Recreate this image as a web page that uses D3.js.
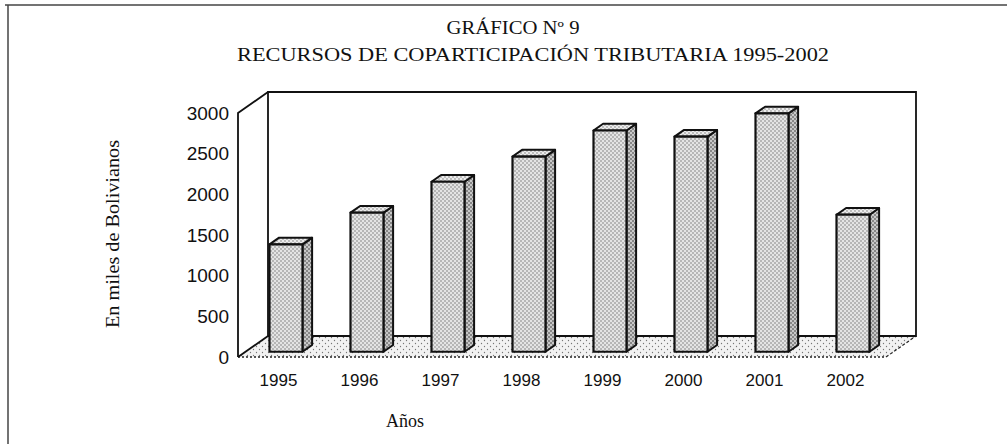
<!DOCTYPE html>
<html>
<head>
<meta charset="utf-8">
<script src="https://cdn.jsdelivr.net/npm/d3@7"></script>
<style>
  body { margin: 0; background: #fff; }
  svg { display: block; }
</style>
</head>
<body>
<div id="chart"></div>
<script>
// data (miles de Bolivianos)
var years = ["1995", "1996", "1997", "1998", "1999", "2000", "2001", "2002"];
var values = [1320, 1710, 2090, 2400, 2720, 2645, 2930, 1685];
var yTicks = [0, 500, 1000, 1500, 2000, 2500, 3000];
var titleLines = ["GRÁFICO Nº 9", "RECURSOS DE COPARTICIPACIÓN TRIBUTARIA 1995-2002"];
var yLabel = "En miles de Bolivianos";
var xLabel = "Años";

var width = 1007, height = 444;
var depthX = 30, depthY = -21;      // 3d offset of the back wall
var barD0 = 0.25, barD1 = 0.57;     // bar position in depth (fraction)

var svg = d3.select("#chart").append("svg")
    .attr("width", width)
    .attr("height", height);

var defs = svg.append("defs");
function stipple(id, bg, dot, step, r) {
    var p = defs.append("pattern")
        .attr("id", id)
        .attr("patternUnits", "userSpaceOnUse")
        .attr("width", step * 2)
        .attr("height", step * 2);
    p.append("rect").attr("width", step * 2).attr("height", step * 2).attr("fill", bg);
    p.append("circle").attr("cx", step * 0.5).attr("cy", step * 0.5).attr("r", r).attr("fill", dot);
    p.append("circle").attr("cx", step * 1.5).attr("cy", step * 1.5).attr("r", r).attr("fill", dot);
}
stipple("pFront", "#e4e4e4", "#666", 2, 0.7);
stipple("pSide", "#c8c8c8", "#333", 2, 0.8);
stipple("pTop", "#ececec", "#666", 2, 0.65);
stipple("pFloor", "#f2f2f2", "#777", 3, 0.65);

// page frame (scan edges)
svg.append("line").attr("x1", 5).attr("y1", 5).attr("x2", width).attr("y2", 5)
    .attr("stroke", "#444").attr("stroke-width", 1.5);
svg.append("line").attr("x1", 8).attr("y1", 5).attr("x2", 8).attr("y2", height)
    .attr("stroke", "#444").attr("stroke-width", 1.5);

var x = d3.scaleBand().domain(years).range([238, 886]).paddingInner(0).paddingOuter(0);
var y = d3.scaleLinear().domain([0, 3000]).range([357, 113]);

function P(px, py, d) { return [px + depthX * d, py + depthY * d]; }
function poly(pts) { return pts.map(function (p) { return p.join(","); }).join(" "); }

var x0 = x.range()[0], x1 = x.range()[1];
var yb = y(0), yt = y(3000);

// floor
svg.append("polygon")
    .attr("points", poly([P(x0, yb, 0), P(x1, yb, 0), P(x1, yb, 1), P(x0, yb, 1)]))
    .attr("fill", "url(#pFloor)")
    .attr("stroke", "none");
svg.append("line")
    .attr("x1", x0).attr("y1", yb).attr("x2", x1).attr("y2", yb)
    .attr("stroke", "#222").attr("stroke-width", 1.5).attr("stroke-dasharray", "2,2");
svg.append("line")
    .attr("x1", x1).attr("y1", yb).attr("x2", P(x1, yb, 1)[0]).attr("y2", P(x1, yb, 1)[1])
    .attr("stroke", "#222").attr("stroke-width", 1.2).attr("stroke-dasharray", "3,2");

// walls
var walls = svg.append("g").attr("fill", "none").attr("stroke", "#111").attr("stroke-width", 1.8);
walls.append("polyline")
    .attr("points", poly([P(x0, yb, 1), P(x0, yt, 1), P(x1, yt, 1), P(x1, yb, 1), P(x0, yb, 1)]));
walls.append("polyline")
    .attr("points", poly([P(x0, yb, 0), P(x0, yt, 0), P(x0, yt, 1)]));
walls.append("line")
    .attr("x1", x0).attr("y1", yb).attr("x2", P(x0, yb, 1)[0]).attr("y2", P(x0, yb, 1)[1]);

// bars
var barW = 33;
var bars = svg.append("g").selectAll("g")
    .data(years.map(function (k, i) { return { year: k, value: values[i] }; }))
    .enter().append("g");

function corners(d) {
    var cx = x(d.year) + x.bandwidth() / 2;
    var l = cx - barW / 2, r = cx + barW / 2;
    return {
        fbl: P(l, yb, barD0), fbr: P(r, yb, barD0),
        ftl: P(l, y(d.value), barD0), ftr: P(r, y(d.value), barD0),
        bbr: P(r, yb, barD1), btl: P(l, y(d.value), barD1), btr: P(r, y(d.value), barD1)
    };
}
bars.append("polygon")
    .attr("points", function (d) { var c = corners(d); return poly([c.fbr, c.bbr, c.btr, c.ftr]); })
    .attr("fill", "url(#pSide)")
    .attr("stroke", "#111").attr("stroke-width", 2).attr("stroke-linejoin", "round");
bars.append("polygon")
    .attr("points", function (d) { var c = corners(d); return poly([c.ftl, c.ftr, c.btr, c.btl]); })
    .attr("fill", "url(#pTop)")
    .attr("stroke", "#111").attr("stroke-width", 2).attr("stroke-linejoin", "round");
bars.append("polygon")
    .attr("points", function (d) { var c = corners(d); return poly([c.fbl, c.fbr, c.ftr, c.ftl]); })
    .attr("fill", "url(#pFront)")
    .attr("stroke", "#111").attr("stroke-width", 2.2).attr("stroke-linejoin", "round");

// value axis labels
svg.append("g").selectAll("text")
    .data(yTicks)
    .enter().append("text")
    .attr("x", 229)
    .attr("y", function (d) { return y(d); })
    .attr("dy", "0.35em")
    .attr("text-anchor", "end")
    .style("font-family", "'Liberation Sans', Arial, sans-serif")
    .style("font-size", "19px")
    .style("fill", "#111")
    .text(function (d) { return d; });

// category labels
svg.append("g").selectAll("text")
    .data(years)
    .enter().append("text")
    .attr("x", function (d) { return x(d) + x.bandwidth() / 2; })
    .attr("y", 380)
    .attr("dy", "0.35em")
    .attr("text-anchor", "middle")
    .style("font-family", "'Liberation Sans', Arial, sans-serif")
    .style("font-size", "17px")
    .style("fill", "#111")
    .text(function (d) { return d; });

// titles
svg.append("text")
    .attr("x", 513).attr("y", 28).attr("dy", "0.35em")
    .attr("text-anchor", "middle")
    .attr("textLength", 133)
    .attr("lengthAdjust", "spacingAndGlyphs")
    .style("font-family", "'Liberation Serif', 'Times New Roman', serif")
    .style("font-size", "18px")
    .style("fill", "#111")
    .text(titleLines[0]);
svg.append("text")
    .attr("x", 533).attr("y", 55).attr("dy", "0.35em")
    .attr("text-anchor", "middle")
    .attr("textLength", 592)
    .attr("lengthAdjust", "spacingAndGlyphs")
    .style("font-family", "'Liberation Serif', 'Times New Roman', serif")
    .style("font-size", "18px")
    .style("fill", "#111")
    .text(titleLines[1]);

svg.append("text")
    .attr("transform", "translate(112,234) rotate(-90)")
    .attr("dy", "0.35em")
    .attr("text-anchor", "middle")
    .attr("textLength", 188)
    .attr("lengthAdjust", "spacingAndGlyphs")
    .style("font-family", "'Liberation Serif', 'Times New Roman', serif")
    .style("font-size", "19px")
    .style("fill", "#111")
    .text(yLabel);

svg.append("text")
    .attr("x", 405).attr("y", 421).attr("dy", "0.35em")
    .attr("text-anchor", "middle")
    .style("font-family", "'Liberation Serif', 'Times New Roman', serif")
    .style("font-size", "18px")
    .style("fill", "#111")
    .text(xLabel);
</script>
</body>
</html>
